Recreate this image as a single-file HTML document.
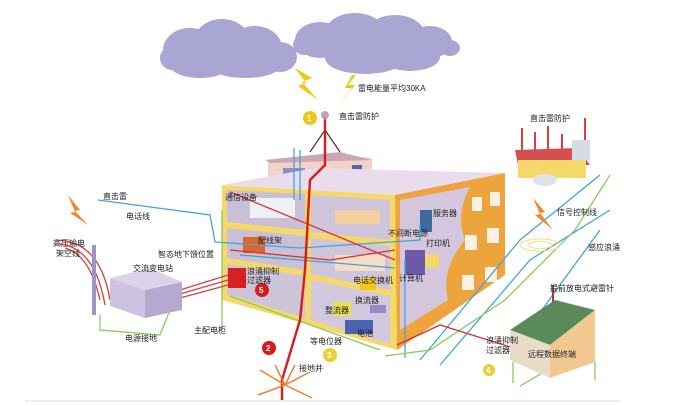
<!DOCTYPE html>
<html><head><meta charset="utf-8"><style>
html,body{margin:0;padding:0;background:#fff;width:684px;height:405px;overflow:hidden}
svg{display:block}
text{font-family:"Liberation Sans","Noto Sans CJK SC",sans-serif;font-size:8px;fill:#222}
</style></head><body>
<svg width="684" height="405" viewBox="0 0 684 405" xmlns="http://www.w3.org/2000/svg">
<g fill="#a9a6d4">
<ellipse cx="190" cy="50" rx="27" ry="22"/><ellipse cx="222" cy="42" rx="28" ry="23"/><ellipse cx="255" cy="48" rx="27" ry="22"/><ellipse cx="280" cy="57" rx="17" ry="15"/><ellipse cx="200" cy="65" rx="30" ry="13"/><ellipse cx="245" cy="66" rx="35" ry="12"/><ellipse cx="172" cy="58" rx="12" ry="12"/>
<ellipse cx="320" cy="40" rx="25" ry="18"/><ellipse cx="355" cy="33" rx="30" ry="20"/><ellipse cx="395" cy="35" rx="30" ry="20"/><ellipse cx="430" cy="42" rx="22" ry="16"/><ellipse cx="450" cy="48" rx="10" ry="8"/><ellipse cx="365" cy="58" rx="40" ry="16"/><ellipse cx="410" cy="57" rx="30" ry="14"/><ellipse cx="305" cy="45" rx="12" ry="10"/>
</g>
<polygon points="295,68 312,78 302,82 318,100 298,86 306,83" fill="#f2c618"/>
<polygon points="352,75 345,88 352,88 338,107 355,85 348,85 356,75" fill="#f2c618"/>
<circle cx="310" cy="118" r="7" fill="#f2c618"/><text x="307" y="121" style="fill:#fff;font-weight:bold">1</text>
<text x="358" y="91">雷电能量平均30KA</text>
<text x="339" y="119">直击雷防护</text>
<polygon points="268,160 330,155 372,158 372,183 268,185" fill="#f0d2c8"/>
<polygon points="265,160 340,152 372,160 270,163" fill="#c9a7b4"/>
<rect x="283" y="168" width="22" height="10" fill="#8b8fc0"/>
<rect x="352" y="165" width="10" height="15" fill="#5e63a6"/>
<circle cx="325" cy="115" r="4" fill="#c7a0bc"/>
<path d="M325 118 L325 150 M325 130 L310 152 M325 130 L340 152" stroke="#5a2a2a" stroke-width="1.2" fill="none"/>
<polygon points="222,185 315,168 505,173 395,195" fill="#e9dced"/>
<polygon points="222,185 395,195 397,350 222,300" fill="#f5d86a"/>
<polygon points="227,190 305,194 305,230 227,222" fill="#c9bfd6"/>
<polygon points="227,228 305,236 305,270 227,258" fill="#c9bfd6"/>
<polygon points="227,264 305,276 305,318 227,294" fill="#cec4da"/>
<polygon points="311,195 390,200 390,240 311,232" fill="#cfc5db"/>
<polygon points="311,238 390,246 390,290 311,274" fill="#cfc5db"/>
<polygon points="311,280 390,296 390,344 311,320" fill="#d3c9de"/>
<polygon points="395,195 505,173 505,275 397,350" fill="#eea43c"/>
<path d="M400 200 L470 187 Q455 215 465 240 Q440 270 448 300 L400 330 Z" fill="#d4c6dd"/>
<g fill="#fbf2e4">
<rect x="472" y="197" width="10" height="14"/><rect x="490" y="192" width="10" height="14"/>
<rect x="465" y="235" width="12" height="15"/><rect x="487" y="228" width="12" height="15"/>
<rect x="462" y="275" width="12" height="15"/><rect x="485" y="267" width="12" height="15"/>
</g>
<rect x="250" y="198" width="45" height="20" fill="#eef0f6"/>
<rect x="243" y="237" width="22" height="16" fill="#e0632a"/>
<rect x="228" y="268" width="18" height="20" fill="#d82020"/>
<rect x="335" y="210" width="45" height="14" fill="#f3cfa0"/>
<rect x="335" y="255" width="50" height="16" fill="#f5dcc6"/>
<rect x="405" y="250" width="20" height="25" fill="#6a5aa8"/>
<rect x="425" y="254" width="14" height="14" fill="#f2d86a"/>
<rect x="420" y="210" width="12" height="22" fill="#3e6aa0"/>
<rect x="333" y="302" width="18" height="14" fill="#e8e050"/>
<rect x="345" y="320" width="28" height="14" fill="#4a63b0"/>
<rect x="370" y="305" width="16" height="8" fill="#9a88c4"/>
<rect x="360" y="278" width="16" height="12" fill="#f2c618"/>
<g fill="none" stroke-width="1.3">
<path d="M98 200 L210 215 L215 242 L300 248 L420 240 L420 225" stroke="#3fa6d8"/>
<path d="M240 255 L395 268 M300 200 L300 150 M294 200 L294 148" stroke="#3fa6d8"/>
<path d="M405 358 L405 260 M420 360 L520 240 L600 175 M440 365 L530 260 L610 210 M520 340 L600 230" stroke="#3fa6d8"/>
<path d="M222 210 L222 330 M230 296 L380 350 M100 315 L100 330 L160 335 L170 310 M385 356 L430 350 L505 300 L575 230 L610 175 M520 386 L590 345" stroke="#8acb5a"/>
<path d="M230 192 L395 260 M230 250 L330 260 L395 250 M397 345 L440 325 L520 350" stroke="#d83030"/>
<path d="M325 120 L325 165 L310 180 L305 270 L300 320 L282 380 L282 402" stroke="#d81c1c" stroke-width="2.4"/>
<path d="M55 240 Q100 240 110 300 M60 244 Q95 248 105 305 M65 248 Q90 255 100 300" stroke="#d84040"/>
<path d="M180 290 L228 275 M180 294 L228 280 M180 298 L228 285" stroke="#d84040"/>
<path d="M522 150 L522 128 M535 150 L535 132 M548 150 L548 126 M562 150 L562 134 M585 145 L585 118" stroke="#d84040" stroke-width="2"/>
<path d="M553 303 L553 285" stroke="#c03030" stroke-width="2"/>
<path d="M513 362 L513 383 M595 362 L595 380" stroke="#8acb5a"/>
</g>
<rect x="92" y="245" width="4" height="70" fill="#9a94c8"/>
<polygon points="110,278 150,268 182,282 145,290" fill="#dcd2ea"/>
<polygon points="110,278 145,290 145,318 110,306" fill="#cdc2e0"/>
<polygon points="145,290 182,282 182,310 145,318" fill="#b5a9d2"/>
<g stroke="#f08030" stroke-width="1.5">
<path d="M285 385 L260 370 M285 385 L310 372 M285 385 L258 395 M285 385 L312 398 M285 385 L275 365 M285 385 L295 365"/>
</g>
<polygon points="68,195 80,210 75,211 88,225 70,213 75,212" fill="#f08a2a"/>
<polygon points="533,198 545,212 540,213 553,230 535,215 540,214" fill="#f08a2a"/>
<polygon points="515,150 578,148 590,165 518,165" fill="#d45050"/>
<rect x="518" y="160" width="68" height="18" fill="#f5d86a"/>
<rect x="572" y="140" width="18" height="20" fill="#d6dce4"/>
<ellipse cx="545" cy="180" rx="12" ry="6" fill="#dde2ea"/>
<polygon points="510,330 555,300 595,310 550,345" fill="#5a8a5a"/>
<polygon points="510,330 550,345 550,378 510,360" fill="#e8dcc8"/>
<polygon points="550,345 595,310 595,362 550,378" fill="#f0c890"/>
<ellipse cx="540" cy="245" rx="20" ry="6" fill="none" stroke="#f5e080"/>
<ellipse cx="540" cy="245" rx="12" ry="3.5" fill="none" stroke="#f5e080"/>
<line x1="25" y1="401" x2="620" y2="401" stroke="#eeeeee" stroke-width="2"/>
<circle cx="262" cy="290" r="7" fill="#d81c1c"/><text x="259" y="293" style="fill:#fff;font-weight:bold">5</text>
<circle cx="269" cy="348" r="7" fill="#d81c1c"/><text x="266" y="351" style="fill:#fff;font-weight:bold">2</text>
<circle cx="330" cy="355" r="7" fill="#e8d030"/><text x="327" y="358" style="fill:#fff;font-weight:bold">3</text>
<circle cx="489" cy="370" r="6" fill="#e8d030"/><text x="486" y="373" style="fill:#fff;font-weight:bold">4</text>
<text x="530" y="121">直击雷防护</text>
<text x="103" y="199">直击雷</text>
<text x="126" y="219">电话线</text>
<text x="53" y="246">高压输电</text><text x="56" y="256">架空线</text>
<text x="158" y="257">智态地下馈位置</text>
<text x="133" y="271">交流变电站</text>
<text x="247" y="274">浪涌抑制</text><text x="247" y="283">过滤器</text>
<text x="125" y="341">电源接地</text>
<text x="194" y="333">主配电柜</text>
<text x="310" y="344">等电位器</text>
<text x="299" y="371">接地井</text>
<text x="225" y="200">通信设备</text>
<text x="258" y="243">配线架</text>
<text x="433" y="216">服务器</text>
<text x="388" y="236">不间断电源</text>
<text x="426" y="246">打印机</text>
<text x="353" y="283">电话交换机</text>
<text x="399" y="281">计算机</text>
<text x="355" y="303">换流器</text>
<text x="325" y="313">整流器</text>
<text x="357" y="336">电池</text>
<text x="557" y="215">信号控制线</text>
<text x="588" y="250">感应浪涌</text>
<text x="550" y="291">提前放电式避雷针</text>
<text x="486" y="343">浪涌抑制</text><text x="486" y="353">过滤器</text>
<text x="528" y="357">远程数据终端</text>
</svg>
</body></html>
